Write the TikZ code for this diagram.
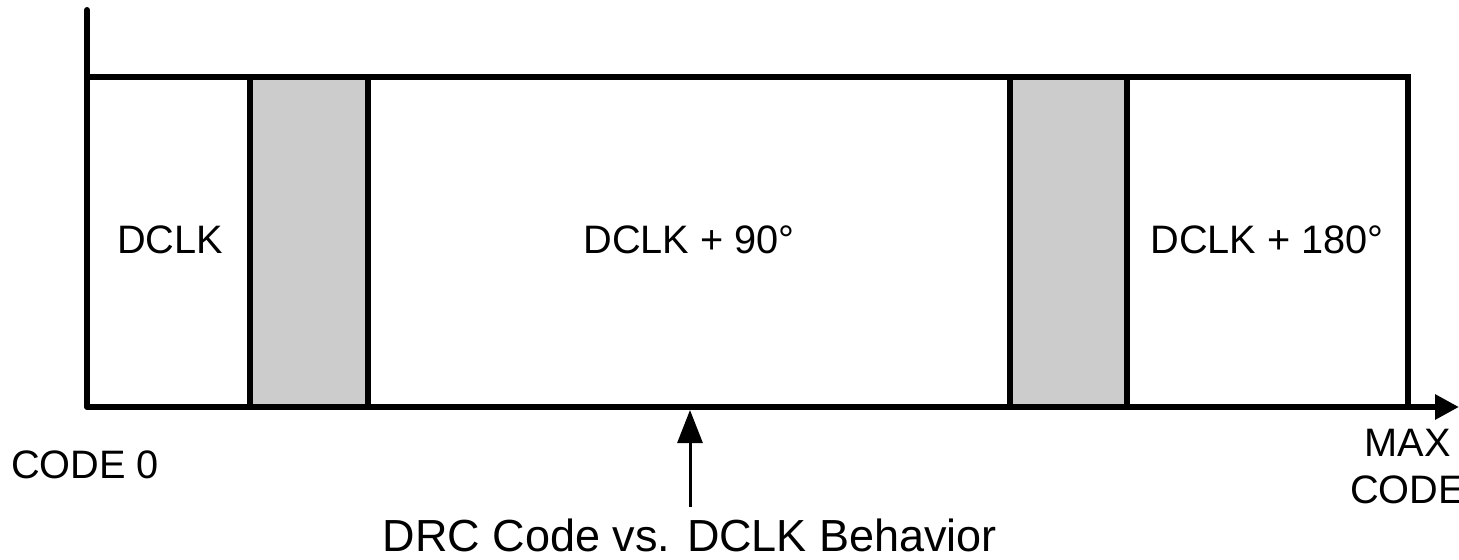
\documentclass[tikz,border=0pt]{standalone}
\usepackage{fontspec}
\setmainfont{Liberation Sans}
\usepackage{tikz}
\usetikzlibrary{arrows.meta, positioning}
\definecolor{bandgray}{HTML}{CCCCCC}
\tikzstyle{frame} = [line width=3.4pt]
\tikzstyle{band} = [line width=3.4pt, fill=bandgray]
\tikzstyle{label} = [font=\fontsize{22.6}{26.7}\selectfont, inner sep=0]
\tikzstyle{title} = [font=\fontsize{25.6}{30}\selectfont, inner sep=0]

\begin{document}
\begin{tikzpicture}
				\useasboundingbox (0, 0) rectangle (29.18, -11.2);

				% axes
				\coordinate (Origin) at (1.74, -8.14);
				\coordinate (AxisTop) at (1.74, -0.2);
				\coordinate (AxisEnd) at (29.18, -8.14);
				\draw[frame, line cap=round] (Origin) -- (AxisTop);
				\draw[frame, -{Triangle[length=0.48cm, width=0.48cm]}] (Origin) -- (AxisEnd);

				% frame
				\coordinate (TopLeft) at (1.74, -1.54);
				\coordinate (TopRight) at (28.16, -1.54);
				\coordinate (BottomRight) at (28.16, -8.14);
				\draw[frame] (TopLeft) -- (TopRight) -- (BottomRight);

				% gray bands
				\draw[band] (5.0, -1.54) rectangle (7.36, -8.14);
				\draw[band] (20.2, -1.54) rectangle (22.54, -8.14);

				% regions
				\node (Dclk) [label] at (3.4, -4.8) {DCLK};
				\node (Dclk90) [label] at (13.78, -4.8) {DCLK + 90°};
				\node (Dclk180) [label] at (25.34, -4.8) {DCLK + 180°};

				% axis labels
				\node (Code0) [label] at (1.7, -9.3) {CODE 0};
				\node (MaxCode) [label, align=center] at (28.15, -9.33) {MAX\\CODE};

				% pointer
				\node (Title) [title] at (13.8, -10.7) {DRC Code vs. DCLK Behavior};
				\coordinate (PointerTip) at (13.8, -8.2);
				\coordinate (PointerFoot) at (13.8, -10.14);
				\draw[line width=1.7pt, -{Triangle[length=0.66cm, width=0.5cm]}] (PointerFoot) -- (PointerTip);
			\end{tikzpicture}
\end{document}
